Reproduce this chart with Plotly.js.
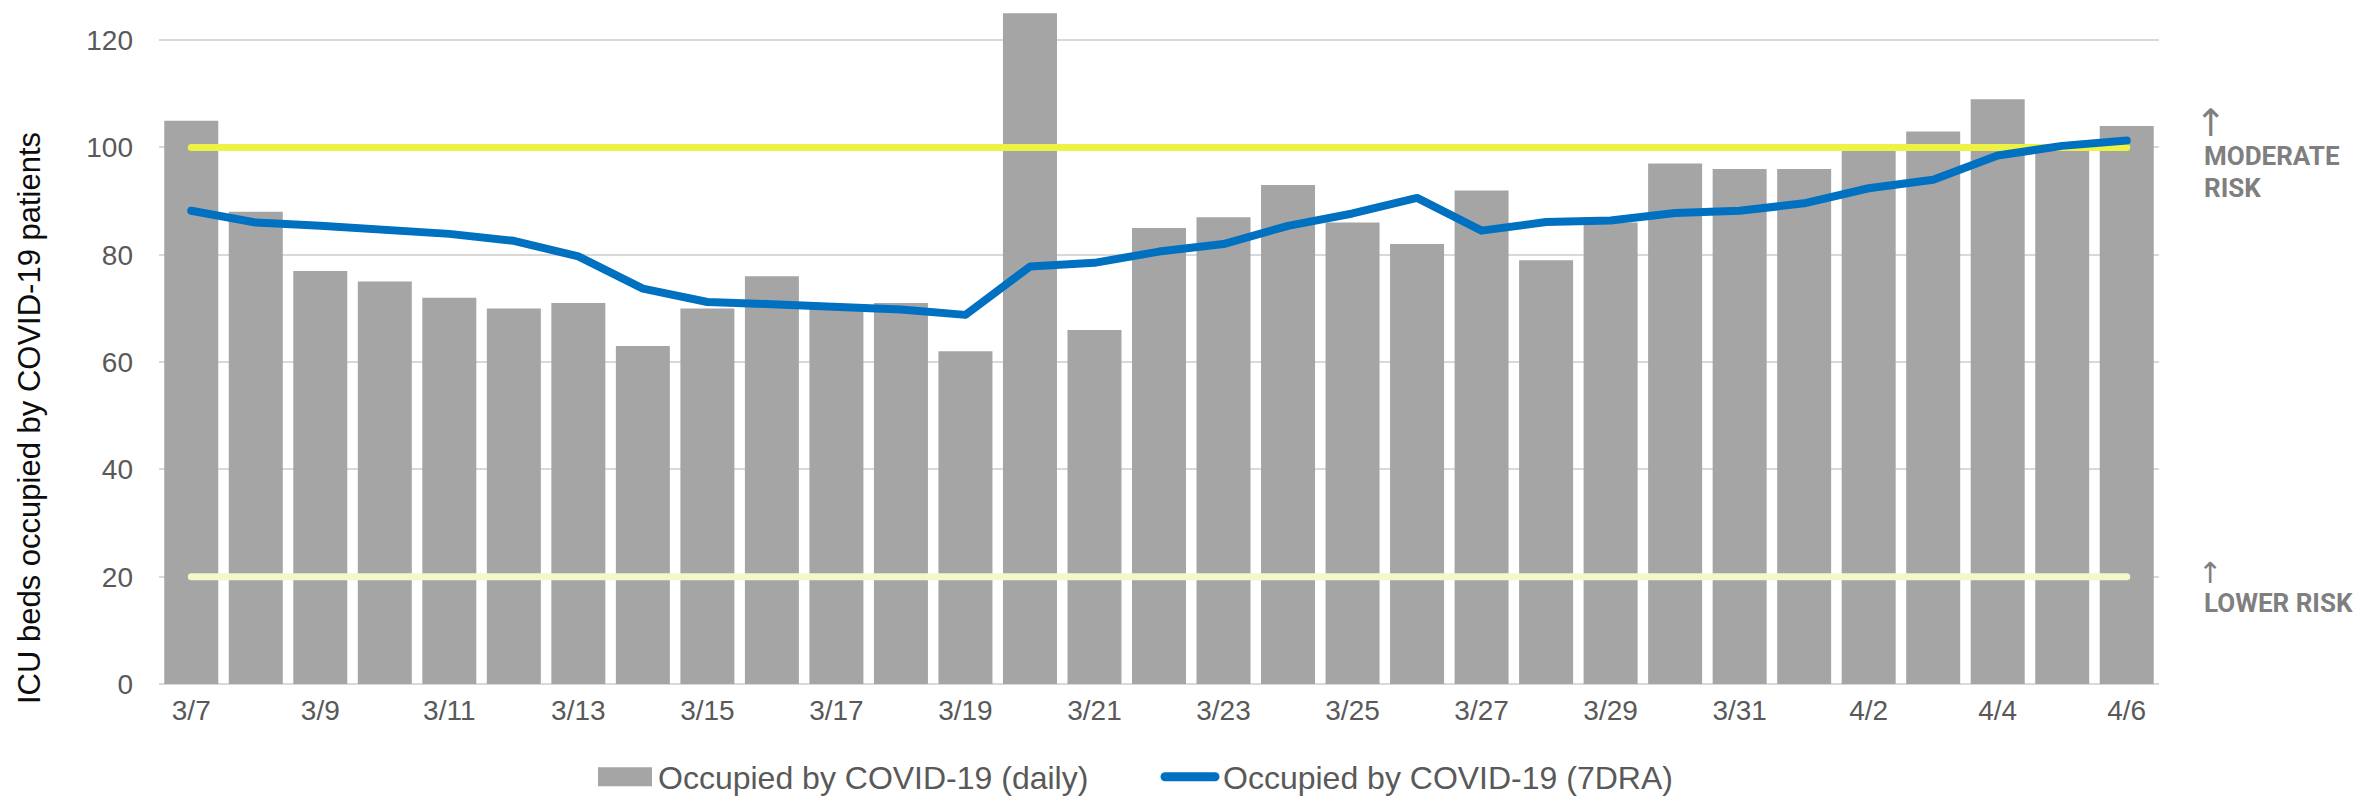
<!DOCTYPE html>
<html>
<head>
<meta charset="utf-8">
<script src="https://cdn.plot.ly/plotly-3.0.1.min.js"></script>
<style>
html, body { margin: 0; padding: 0; background: #ffffff; }
#chart { width: 2374px; height: 796px; }
.scatterlayer path.js-line { stroke-linecap: round; stroke-linejoin: round; }
.legend path.js-line { stroke-linecap: round; }
</style>
</head>
<body>
<div id="chart"></div>
<script>
// ---- data ----
const categories = ['3/7','3/8','3/9','3/10','3/11','3/12','3/13','3/14','3/15','3/16',
  '3/17','3/18','3/19','3/20','3/21','3/22','3/23','3/24','3/25','3/26',
  '3/27','3/28','3/29','3/30','3/31','4/1','4/2','4/3','4/4','4/5','4/6'];
const xTickLabels = ['3/7','3/9','3/11','3/13','3/15','3/17','3/19','3/21','3/23',
  '3/25','3/27','3/29','3/31','4/2','4/4','4/6'];
const yTickValues = [0, 20, 40, 60, 80, 100, 120];
const dailyOccupied = [105, 88, 77, 75, 72, 70, 71, 63, 70, 76,
  70, 71, 62, 125, 66, 85, 87, 93, 86, 82,
  92, 79, 86, 97, 96, 96, 100, 103, 109, 100, 104];
const sevenDayAvg = [88.2, 86.0, 85.4, 84.5, 83.9, 82.6, 79.7, 73.7, 71.2, 70.8,
  70.3, 69.8, 68.8, 77.8, 78.5, 80.6, 82.0, 85.4, 87.7, 90.6,
  84.5, 86.1, 86.4, 87.8, 88.2, 89.6, 92.4, 94.0, 98.5, 100.3, 101.3];
const moderateRiskLevel = 100;
const lowerRiskLevel = 20;
const riskSpan = [categories[0], categories[categories.length - 1]];

const traces = [
  {
    type: 'bar', x: categories, y: dailyOccupied,
    name: 'Occupied by COVID-19 (daily)',
    marker: { color: '#A5A5A5', line: { width: 0 } },
    hoverinfo: 'skip'
  },
  {
    type: 'scatter', mode: 'lines', x: riskSpan, y: [moderateRiskLevel, moderateRiskLevel],
    line: { color: '#EEF243', width: 7 }, showlegend: false, hoverinfo: 'skip'
  },
  {
    type: 'scatter', mode: 'lines', x: riskSpan, y: [lowerRiskLevel, lowerRiskLevel],
    line: { color: '#F4F8C8', width: 7 }, showlegend: false, hoverinfo: 'skip'
  },
  {
    type: 'scatter', mode: 'lines', x: categories, y: sevenDayAvg,
    name: 'Occupied by COVID-19 (7DRA)',
    line: { color: '#0070C0', width: 8 }, hoverinfo: 'skip'
  }
];

const W = 2374, H = 796;
const mL = 159, mR = 215, mT = 8, mB = 112;
const pw = W - mL - mR, ph = H - mT - mB;
const px2x = p => (p - mL) / pw;
const px2y = p => (H - mB - p) / ph;

const riskFont = { family: 'Roboto, "Liberation Sans", sans-serif', size: 26, color: '#7F7F7F', weight: 700 };
const arrowFont = { family: '"DejaVu Sans", sans-serif', color: '#7F7F7F', weight: 400 };

const layout = {
  width: W, height: H,
  margin: { l: mL, r: mR, t: mT, b: mB, pad: 0, autoexpand: false },
  paper_bgcolor: '#ffffff', plot_bgcolor: '#ffffff',
  bargap: 0.163,
  font: { family: '"Liberation Sans", Arial, sans-serif', size: 28, color: '#595959' },
  xaxis: {
    type: 'category', range: [-0.5, categories.length - 0.5],
    tickmode: 'array', tickvals: xTickLabels, ticktext: xTickLabels,
    showgrid: false, zeroline: false, showline: false, ticks: '',
    ticklabelstandoff: 7,
    tickfont: { size: 28, color: '#595959' }, fixedrange: true
  },
  yaxis: {
    range: [0, 126], tickmode: 'array', tickvals: yTickValues,
    showgrid: true, gridcolor: '#D9D9D9', gridwidth: 2,
    zeroline: true, zerolinecolor: '#D9D9D9', zerolinewidth: 2,
    showline: false, ticks: '', ticklabelstandoff: 25,
    tickfont: { size: 28, color: '#595959' }, fixedrange: true
  },
  showlegend: true,
  legend: {
    orientation: 'h', xanchor: 'left', yanchor: 'middle',
    x: px2x(588), y: px2y(777),
    font: { size: 32, color: '#595959' },
    itemwidth: 60, entrywidth: 490, entrywidthmode: 'pixels',
    bgcolor: 'rgba(0,0,0,0)', traceorder: 'normal', valign: 'middle'
  },
  annotations: [
    {
      text: 'ICU beds occupied by COVID-19 patients',
      xref: 'paper', yref: 'paper', x: px2x(29), y: px2y(418),
      xanchor: 'center', yanchor: 'middle', textangle: -90, showarrow: false,
      font: { size: 31, color: '#0d0d0d' }
    },
    {
      text: '↑', xref: 'paper', yref: 'paper', x: px2x(2211), y: px2y(123),
      xanchor: 'center', yanchor: 'middle', showarrow: false,
      font: Object.assign({ size: 38 }, arrowFont)
    },
    {
      text: 'MODERATE', xref: 'paper', yref: 'paper', x: px2x(2202), y: px2y(156),
      xanchor: 'left', yanchor: 'middle', showarrow: false, font: riskFont
    },
    {
      text: 'RISK', xref: 'paper', yref: 'paper', x: px2x(2202), y: px2y(188),
      xanchor: 'left', yanchor: 'middle', showarrow: false, font: riskFont
    },
    {
      text: '↑', xref: 'paper', yref: 'paper', x: px2x(2210), y: px2y(573),
      xanchor: 'center', yanchor: 'middle', showarrow: false,
      font: Object.assign({ size: 29 }, arrowFont)
    },
    {
      text: 'LOWER RISK', xref: 'paper', yref: 'paper', x: px2x(2202), y: px2y(603),
      xanchor: 'left', yanchor: 'middle', showarrow: false, font: riskFont
    }
  ]
};

Plotly.newPlot('chart', traces, layout, { staticPlot: true, displayModeBar: false }).then(function (gd) {
  // reshape legend symbols like the reference (wide grey block, thick blue bar)
  gd.querySelectorAll('.legend .traces').forEach(function (tr) {
    const barSym = tr.querySelector('.legendpoints path');
    if (barSym) {
      barSym.setAttribute('d', 'M10,-9.5H64V9.5H10Z');
      barSym.setAttribute('transform', '');
    }
    const lineSym = tr.querySelector('.legendlines path.js-line');
    if (lineSym) {
      lineSym.setAttribute('d', 'M12,0H62');
      lineSym.style.strokeWidth = '9px';
    }
  });
});
</script>
</body>
</html>
